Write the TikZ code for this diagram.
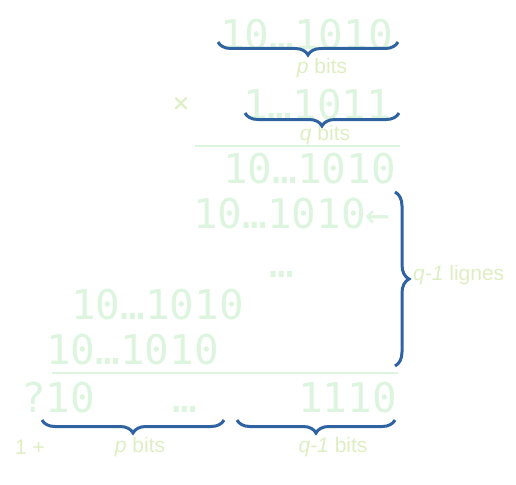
\documentclass[tikz,border=0pt]{standalone}
\usepackage{fontspec}
\setmainfont{Liberation Sans}
\newfontfamily\bitsfont{DejaVu Sans Mono}
\usepackage{tikz}
\usetikzlibrary{positioning,decorations.pathreplacing}
\definecolor{bitgreen}{HTML}{DDF5DF}
\definecolor{labgreen}{HTML}{DDEFC2}
\definecolor{braceblue}{HTML}{2E62A0}

\begin{document}
\begin{tikzpicture}[x=1pt,y=-1pt,
bits/.style={inner sep=0pt,anchor=base west,text=bitgreen,font=\bitsfont\fontsize{41}{41}\selectfont},
lab/.style={inner sep=0pt,text=labgreen,font=\fontsize{21}{21}\selectfont},
brace/.style={decorate,decoration={brace,amplitude=13pt,mirror},draw=braceblue,line width=3pt},
vbrace/.style={decorate,decoration={brace,amplitude=14pt},draw=braceblue,line width=3pt},
rule/.style={draw=bitgreen,line width=2pt}
]
\useasboundingbox (0,0) rectangle (516,484);

%create nodes
\node[bits] (a) at (220,50) {10…1010};
\node[bits] (b) at (243,120) {1…1011};
\node[bits] (r1) at (223,183) {10…1010};
\node[bits] (r2) at (193,228) {10…1010←};
\node[bits] (rdots) at (269,277) {…};
\node[bits] (r3) at (71,319) {10…1010};
\node[bits] (r4) at (46,364) {10…1010};
\node[bits] (res) at (21,412) {?10};
\node[bits] (resdots) at (172,412) {…};
\node[bits] (reslow) at (298,412) {1110};

\node[lab] (times) at (181,105) {\bitsfont\fontsize{28}{28}\selectfont×};
\node[lab] (pa) at (322,68) {\textit{p} bits};
\node[lab] (qb) at (325,135) {\textit{q} bits};
\node[lab, anchor=west] (lignes) at (413,275) {\textit{q-1} lignes};
\node[lab] (one) at (30,447) {1 +};
\node[lab] (pres) at (140,447) {\textit{p} bits};
\node[lab] (qres) at (333,447) {\textit{q-1} bits};

%brace ends
\coordinate (a1) at (218,42);
\coordinate (a2) at (398,42);
\coordinate (b1) at (245,113);
\coordinate (b2) at (399,113);
\coordinate (v1) at (395,192);
\coordinate (v2) at (395,366);
\coordinate (p1) at (42,420);
\coordinate (p2) at (224,420);
\coordinate (q1) at (237,420);
\coordinate (q2) at (395,420);

%draw rules
\coordinate (l1) at (195,146);
\coordinate (l2) at (400,146);
\coordinate (l3) at (52,373);
\coordinate (l4) at (398,373);
\draw[rule] (l1) -- (l2);
\draw[rule] (l3) -- (l4);

%draw braces
\draw[brace] (a1) -- (a2);
\draw[brace] (b1) -- (b2);
\draw[vbrace] (v1) -- (v2);
\draw[brace] (p1) -- (p2);
\draw[brace] (q1) -- (q2);

\end{tikzpicture}
\end{document}
